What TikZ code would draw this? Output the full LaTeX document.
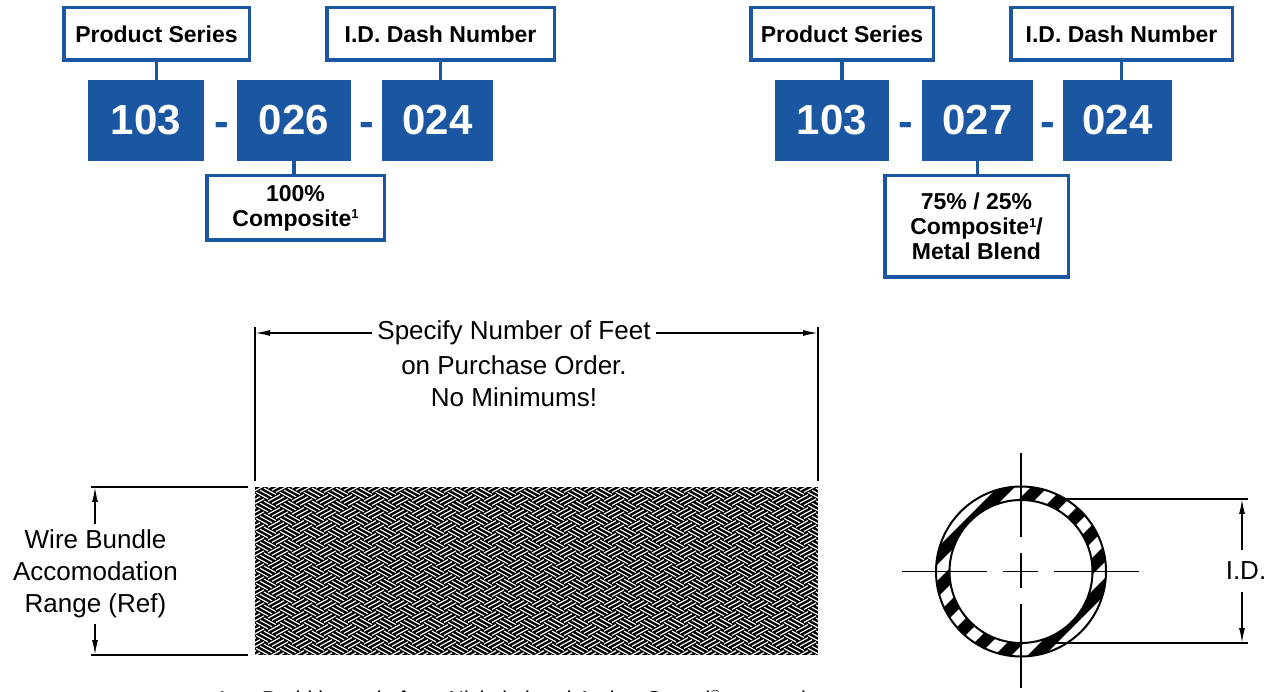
\documentclass[tikz,border=0pt]{standalone}
\usepackage{fontspec}
\setmainfont{Liberation Sans}
\usetikzlibrary{arrows.meta}
\definecolor{codeblue}{HTML}{1A56A2}
\newcommand{\noteref}{\raisebox{0.6ex}{\fontsize{13}{13}\selectfont 1}}

\begin{document}
\begin{tikzpicture}[x=1pt,y=-1pt]
	\tikzset{label box/.style={draw=codeblue,line width=3.5pt,fill=white,inner sep=0pt,align=center,font=\fontsize{23}{25}\selectfont\bfseries},
		code box/.style={fill=codeblue,text=white,inner sep=0pt,minimum height=81pt,font=\fontsize{42}{42}\selectfont\bfseries},
		dash sign/.style={text=codeblue,anchor=base,inner sep=0pt,font=\fontsize{44}{44}\selectfont\bfseries},
		link/.style={draw=codeblue,line width=3.5pt},
		dimline/.style={line width=1.5pt},
		dimarrow/.style={line width=1.5pt,-{Latex[length=15pt,width=6pt]}},
		plain text/.style={align=center,font=\fontsize{26}{32}\selectfont},
		strand/.style={white,line width=1.2pt}}
	\useasboundingbox (0,0) rectangle (1270,692);
	% part number, 100% composite
	\node[label box,minimum width=185.5pt,minimum height=52.5pt] (ps1) at (156.5,34) {Product Series};
	\node[label box,minimum width=227.5pt,minimum height=52.5pt] (id1) at (440.5,34) {I.D. Dash Number};
	\node[code box,minimum width=116pt] (c1) at (146,120.5) {103};
	\node[code box,minimum width=114pt] (c2) at (294,120.5) {026};
	\node[code box,minimum width=111pt] (c3) at (437.5,120.5) {024};
	\node[dash sign] (d1) at (222,137) {-};
	\node[dash sign] (d2) at (367,137) {-};
	\node[label box,minimum width=177.5pt,minimum height=64.5pt] (cm1) at (295.5,208) {100\%\\Composite\noteref};
	\draw[link] (ps1.south) -- (ps1.south |- c1.north);
	\draw[link] (id1.south) -- (id1.south |- c3.north);
	\draw[link] (c2.south) -- (c2.south |- cm1.north);
	% part number, 75/25 blend
	\node[label box,minimum width=182.5pt,minimum height=52.5pt] (ps2) at (842,34) {Product Series};
	\node[label box,minimum width=221.5pt,minimum height=52.5pt] (id2) at (1121.5,34) {I.D. Dash Number};
	\node[code box,minimum width=114pt] (c4) at (832,120.5) {103};
	\node[code box,minimum width=111pt] (c5) at (977.5,120.5) {027};
	\node[code box,minimum width=109pt] (c6) at (1117.5,120.5) {024};
	\node[dash sign] (d3) at (906,137) {-};
	\node[dash sign] (d4) at (1048,137) {-};
	\node[label box,minimum width=183.5pt,minimum height=101.5pt] (bl2) at (976.5,226.5) {75\% / 25\%\\Composite\noteref/\\Metal Blend};
	\draw[link] (ps2.south) -- (ps2.south |- c4.north);
	\draw[link] (id2.south) -- (id2.south |- c6.north);
	\draw[link] (c5.south) -- (c5.south |- bl2.north);
	% braid
	\begin{scope}
		\clip (255,487) rectangle (818,655);
		\fill (255,487) rectangle (818,655);
		\foreach \s in {0,...,52}{
			\pgfmathtruncatemacro\colodd{mod(\s,2)}
			\foreach \k in {0,...,15}{
				\pgfmathsetmacro\px{242+12*\s}
				\pgfmathsetmacro\py{474+13*\k+6.5*\colodd}
				\ifnum\colodd=0
					\draw[strand] \foreach \st in {0.17,0.5,0.83}{({\px+12*\st},{\py+6.5*\st}) -- ++(12,-6.5)};
				\else
					\draw[strand] \foreach \st in {0.17,0.5,0.83}{({\px+12*\st},{\py-6.5*\st}) -- ++(12,6.5)};
				\fi
			}
		}
	\end{scope}
	% length
	\coordinate (ltop) at (255,333);
	\coordinate (rtop) at (818,333);
	\draw[dimline] (255,327) -- (255,481) (818,327) -- (818,481);
	\node[plain text,inner xsep=5pt] (spec) at (514,333) {Specify Number of Feet};
	\node[plain text] (spec2) at (514,381) {on Purchase Order.\\No Minimums!};
	\draw[dimarrow] (spec.west) -- (spec.west -| ltop);
	\draw[dimarrow] (spec.east) -- (spec.east -| rtop);
	% wire bundle range
	\coordinate (wtop) at (95,487);
	\coordinate (wbot) at (95,655);
	\draw[dimline] (91,487) -- (248,487) (91,655) -- (248,655);
	\node[plain text,inner ysep=6pt] (wire) at (95.5,574) {Wire Bundle\\Accomodation\\Range (Ref)};
	\draw[dimarrow] (wire.north -| wtop) -- (wtop);
	\draw[dimarrow] (wire.south -| wbot) -- (wbot);
	% cross section
	\coordinate (ctr) at (1021,571.5);
	\begin{scope}
		\clip (ctr) circle[radius=85];
		\foreach \k in {-7,...,7}
			\draw[line width=12pt] ({1021+16.5*\k-110},{571.5+16.5*\k+110}) -- ++(220,-220);
	\end{scope}
	\fill[white] (ctr) circle[radius=71.5];
	\draw[line width=2pt] (ctr) circle[radius=85] (ctr) circle[radius=71.5];
	\draw[dimline,dash pattern=on 85pt off 16pt on 35pt off 16pt on 85pt] (902,571.5) -- (1139,571.5);
	\draw[dimline,dash pattern=on 84pt off 16pt on 35pt off 16pt on 84pt] (1021,453) -- (1021,688);
	% inside diameter
	\coordinate (idtop) at (1242,499);
	\coordinate (idbot) at (1242,643);
	\draw[dimline] (1062,499) -- (1248,499) (1056,643) -- (1248,643);
	\node[plain text,inner ysep=12pt] (idlabel) at (1246,571) {I.D.};
	\draw[dimarrow] (idlabel.north -| idtop) -- (idtop);
	\draw[dimarrow] (idlabel.south -| idbot) -- (idbot);
	% footnote
	\node[anchor=base west,inner sep=0pt,font=\fontsize{21.5}{24}\selectfont] (fnnum) at (216,706) {1};
	\node[anchor=base west,inner sep=0pt,font=\fontsize{21.5}{24}\selectfont] (fntext) at (262,706) {Braid is made from Nickel plated Amber Strand\raisebox{0.6ex}{\fontsize{13}{13}\selectfont ®} composite};
\end{tikzpicture}
\end{document}
